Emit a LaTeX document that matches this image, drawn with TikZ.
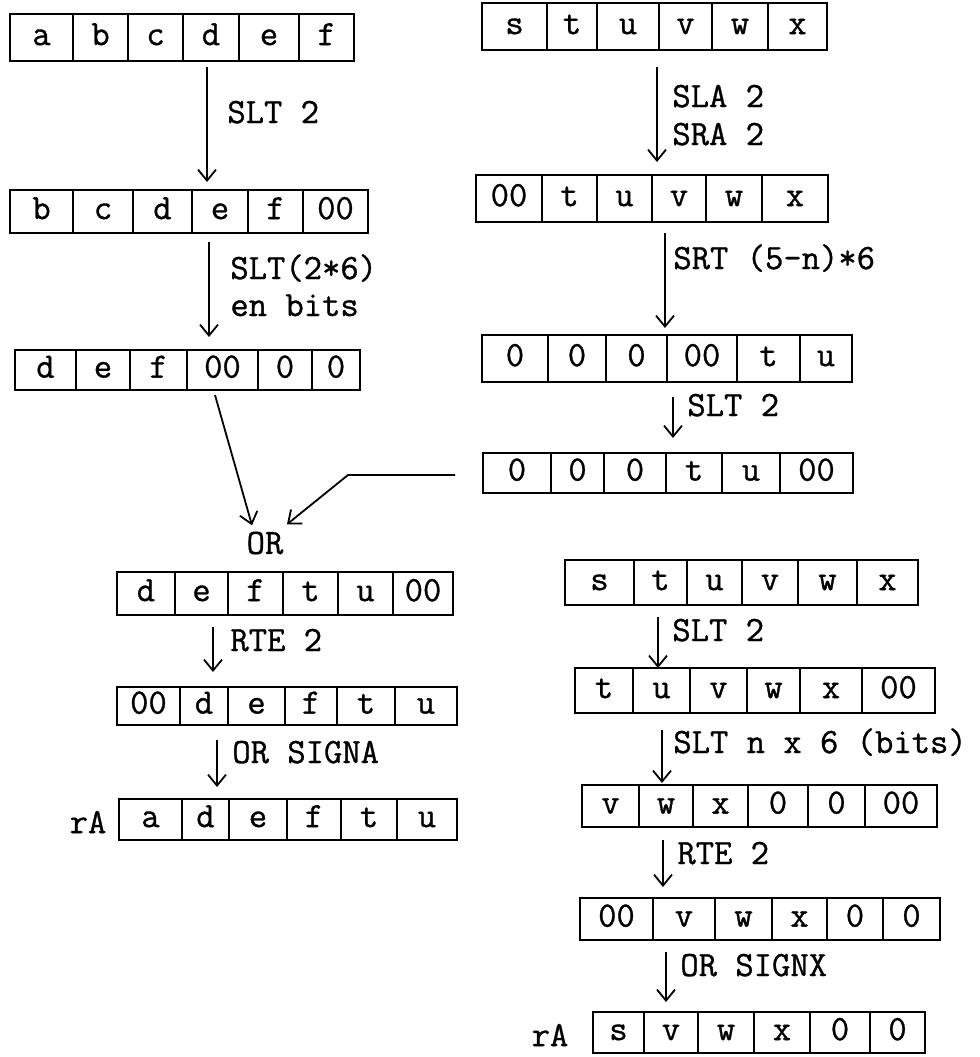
\documentclass[tikz,border=0pt]{standalone}
\usepackage{fontspec}
\newfontfamily\tw{Latin Modern Mono}[FakeBold=0.9]
\usetikzlibrary{arrows.meta,fit,calc}
\tikzset{
  cell/.style={draw, line width=0.75pt, inner sep=0pt, outer sep=0pt,
    font=\tw\fontsize{17.8}{20}\selectfont, text height=7.6pt, text depth=0pt},
  regframe/.style={draw, line width=1.3pt, inner sep=0pt, outer sep=0pt},
  arr/.style={line width=0.9pt, -{Straight Barb[length=5.5pt,width=9pt,line width=0.9pt]}},
  lab/.style={font=\tw\fontsize{17.8}{20}\selectfont, inner sep=0pt, anchor=base west},
  txt/.style={font=\tw\fontsize{17.8}{20}\selectfont, inner sep=0pt}
}
% #1 name, #2 top y, #3 bottom y, #4 list xleft/xright/label
\newcommand\regbox[4]{%
  \foreach \xa/\xb/\tx [count=\i] in {#4} {
    \node[cell, minimum width={(\xb-\xa)*0.5pt}, minimum height={(#3-#2)*0.5pt}]
      (#1-\i) at ({(\xa+\xb)/2},{(#2+#3)/2}) {\tx};
  }
  \node[regframe, fit=(#1-1)(#1-6)] (#1) {};
}
\begin{document}
\begin{tikzpicture}[x=0.5pt,y=-0.5pt]
\useasboundingbox[fill=white] (0,0) rectangle (980,1057);
% ---------- left column
\regbox{A1}{14}{61}{10/73/a,73/128/b,128/183/c,183/239/d,239/299/e,299/354/f}
\regbox{A2}{190}{233}{10/73/b,73/133/c,133/192/d,192/248/e,248/303/f,303/368/00}
\regbox{A3}{350}{390}{15/76/d,76/130/e,130/187/f,187/258/00,258/312/0,312/360/0}
\node[txt] (OR) at (265,543) {OR};
\regbox{A4}{572}{615}{117/175/d,175/228/e,228/283/f,283/338/t,338/393/u,393/453/00}
\regbox{A5}{687}{725}{117/180/00,180/228/d,228/285/e,285/337/f,337/395/t,395/457/u}
\regbox{A6}{799}{840}{119/182/a,182/229/d,229/287/e,287/341/f,341/397/t,397/457/u}
\node[txt] (rA1) at (88,822) {rA};
% ---------- right column
\regbox{B1}{3}{50}{482/547/s,547/597/t,597/659/u,659/712/v,712/768/w,768/827/x}
\regbox{B2}{175}{222}{476/542/00,542/597/t,597/652/u,652/706/v,706/762/w,762/828/x}
\regbox{B3}{335}{382}{482/548/0,548/606/0,606/667/0,667/737/00,737/800/t,800/852/u}
\regbox{B4}{453}{493}{483/551/0,551/604/0,604/666/0,666/722/t,722/780/u,780/853/00}
\regbox{C1}{560}{605}{565/634/s,634/687/t,687/742/u,742/798/v,798/857/w,857/918/x}
\regbox{C2}{668}{713}{575/633/t,633/690/u,690/747/v,747/800/w,800/862/x,862/935/00}
\regbox{C3}{785}{827}{582/639/v,639/693/w,693/748/x,748/808/0,808/865/0,865/937/00}
\regbox{C4}{898}{940}{580/653/00,653/715/v,715/772/w,772/827/x,827/883/0,883/940/0}
\regbox{C5}{1012}{1053}{593/644/s,644/698/v,698/754/w,754/810/x,810/870/0,870/925/0}
\node[txt] (rA2) at (550,1035) {rA};
% ---------- left arrows
\draw[arr] ($(A1.south west)+(197,6)$) -- ($(A2.north west)+(197,-8)$);
\node[lab] (l1) at (227,123) {SLT 2};
\draw[arr] ($(A2.south west)+(199,9)$) -- ($(A3.north west)+(194,-13)$);
\node[lab] (l2a) at (230,279) {SLT(2*6)};
\node[lab] (l2b) at (230,316) {en bits};
\draw[arr] ($(A3.south west)+(200,5)$) -- ($(OR.north)+(-13,-6)$);
\coordinate (bend) at (348,475);
\draw[arr] ($(B4.west)+(-28,2)$) -- (bend) -- ($(OR.north)+(22,-7)$);
\draw[arr] ($(A4.south west)+(96,12)$) -- ($(A5.north west)+(96,-15)$);
\node[lab] (l3) at (230,651) {RTE 2};
\draw[arr] ($(A5.south west)+(100,15)$) -- ($(A6.north west)+(98,-12)$);
\node[lab] (l4) at (232,763) {OR SIGNA};
% ---------- right arrows
\draw[arr] ($(B1.south west)+(175,17)$) -- ($(B2.north west)+(181,-13)$);
\node[lab] (l5a) at (672,107) {SLA 2};
\node[lab] (l5b) at (672,145) {SRA 2};
\draw[arr] ($(B2.south west)+(189,11)$) -- ($(B3.north west)+(183,-7)$);
\node[lab] (l6) at (673,269) {SRT (5-n)*6};
\draw[arr] ($(B3.south west)+(191,15)$) -- ($(B4.north west)+(190,-15)$);
\node[lab] (l7) at (687,416) {SLT 2};
\draw[arr] ($(C1.south west)+(93,12)$) -- ($(C2.north west)+(83,0)$);
\node[lab] (l8) at (672,641) {SLT 2};
\draw[arr] ($(C2.south west)+(87,17)$) -- ($(C3.north west)+(80,-2)$);
\node[lab] (l9) at (673,753) {SLT n x 6 (bits)};
\draw[arr] ($(C3.south west)+(81,13)$) -- ($(C4.north west)+(83,-11)$);
\node[lab] (l10) at (677,864) {RTE 2};
\draw[arr] ($(C4.south west)+(86,12)$) -- ($(C5.north west)+(73,-10)$);
\node[lab] (l11) at (680,976) {OR SIGNX};
\end{tikzpicture}
\end{document}
